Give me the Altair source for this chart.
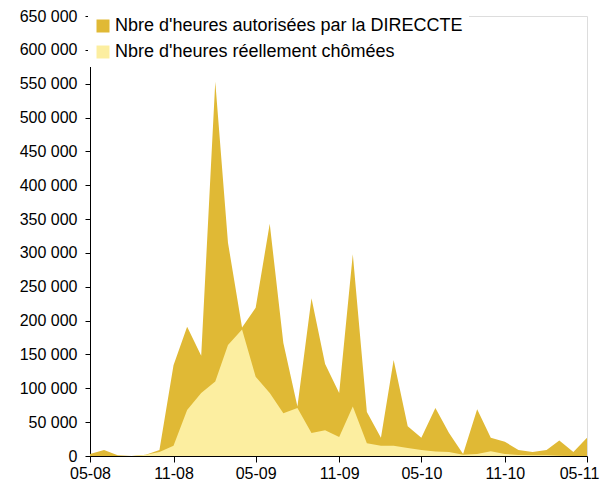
import altair as alt
import pandas as pd

months = pd.date_range("2008-05-01", "2011-05-01", freq="MS")
autorisees = [3000, 9000, 1000, 0, 2000, 9000, 134000, 191000, 148000, 553000,
              315000, 190000, 219000, 343000, 167000, 73000, 233000, 136000, 93000,
              298000, 65000, 27000, 142000, 44000, 27000, 71000, 34000, 3000, 69000,
              27000, 21000, 9000, 6000, 9000, 23000, 6000, 27000]
chomees = [0, 0, 0, 0, 2000, 6000, 15000, 68000, 93000, 110000, 164000, 187000,
           117000, 93000, 63000, 71000, 34000, 38000, 28000, 73000, 19000, 15000,
           15000, 12000, 9000, 6500, 6000, 2000, 3000, 7000, 3000, 1500, 1000, 1000,
           500, 0, 0]
series = ["Nbre d'heures autorisées par la DIRECCTE", "Nbre d'heures réellement chômées"]
colors = ["#E0B935", "#FCEEA0"]
tick_dates = ["2008-05-01", "2008-11-01", "2009-05-01", "2009-11-01",
              "2010-05-01", "2010-11-01", "2011-05-01"]

rows = []
for k, (name, vals) in enumerate(zip(series, [autorisees, chomees])):
    for d, v in zip(months, vals):
        rows.append({"date": d, "value": v, "serie": name, "order": k})
df = pd.DataFrame(rows)

FONT = "Liberation Sans"

chart = alt.Chart(df).mark_area(opacity=1, interpolate="linear").encode(
    x=alt.X("date:T",
            scale=alt.Scale(domain=[months[0].isoformat(), months[-1].isoformat()], nice=False),
            axis=alt.Axis(values=[pd.Timestamp(t).isoformat() for t in tick_dates],
                          format="%m-%y", title=None, grid=False, labelFontSize=16,
                          labelFont=FONT, labelColor="#000", domainColor="#000",
                          tickColor="#000", tickSize=6, labelPadding=3,
                          labelOffset={"condition": {"test": "year(datum.value) == 2011",
                                                     "value": -8}, "value": 0},
                          labelFlush=False)),
    y=alt.Y("value:Q", stack=None,
            scale=alt.Scale(domain=[0, 650000], nice=False),
            axis=alt.Axis(values=list(range(0, 650001, 50000)), title=None, grid=False,
                          labelExpr="datum.value == 0 ? '0' : floor(datum.value/1000) + ' 000'",
                          labelFontSize=16, labelFont=FONT, labelColor="#000",
                          domainColor="#000", tickColor="#000", tickSize=5,
                          labelPadding=8)),
    color=alt.Color("serie:N", scale=alt.Scale(domain=series, range=colors),
                    sort=series,
                    legend=alt.Legend(title=None, orient="none", legendX=-2, legendY=-5,
                                      symbolType="square", symbolSize=169,
                                      symbolStrokeWidth=0, labelFontSize=18,
                                      labelFont=FONT, labelColor="#000",
                                      rowPadding=8, fillColor="white", padding=6,
                                      labelOffset=3, labelLimit=500)),
    order=alt.Order("order:Q"),
).properties(
    width=497, height=440,
    autosize=alt.AutoSizeParams(type="none"),
    padding={"left": 82, "top": 8, "right": 15, "bottom": 30},
).configure_view(stroke=None).configure(font=FONT)

chart.save("out.html", embed_options={"renderer": "svg", "actions": False})
